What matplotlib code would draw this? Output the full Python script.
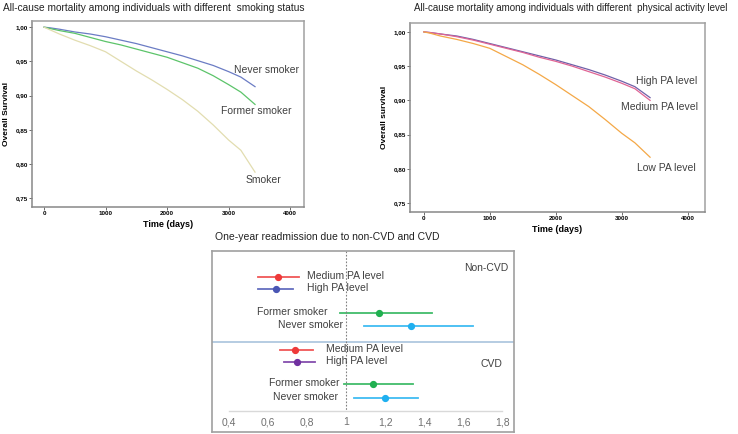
import matplotlib.pyplot as plt
import numpy as np
from matplotlib.ticker import FuncFormatter

plt.rcParams['font.family'] = ['Liberation Sans', 'DejaVu Sans']

# Kaplan-Meier curves
days = [0, 100, 250, 500, 750, 1000, 1250, 1500, 1750, 2000, 2250, 2500, 2750, 3000, 3200, 3430]
never_smoker = [1.000, 0.999, 0.997, 0.993, 0.990, 0.986, 0.981, 0.976, 0.970, 0.964, 0.958, 0.951, 0.944, 0.935, 0.927, 0.913]
former_smoker = [1.000, 0.998, 0.995, 0.991, 0.985, 0.979, 0.974, 0.968, 0.962, 0.956, 0.948, 0.940, 0.929, 0.916, 0.905, 0.887]
smoker = [1.000, 0.996, 0.990, 0.981, 0.973, 0.964, 0.950, 0.936, 0.923, 0.909, 0.894, 0.877, 0.857, 0.835, 0.820, 0.788]

high_pa = [1.000, 0.999, 0.997, 0.994, 0.989, 0.983, 0.977, 0.971, 0.965, 0.959, 0.952, 0.945, 0.937, 0.928, 0.920, 0.904]
medium_pa = [1.000, 0.999, 0.997, 0.993, 0.988, 0.982, 0.976, 0.970, 0.963, 0.957, 0.950, 0.942, 0.934, 0.925, 0.917, 0.900]
low_pa = [1.000, 0.998, 0.994, 0.989, 0.983, 0.976, 0.964, 0.952, 0.938, 0.923, 0.907, 0.891, 0.872, 0.852, 0.838, 0.817]

# forest plot: order = Medium PA, High PA, Former smoker, Never smoker
forest_labels = ['Medium PA level', 'High PA level', 'Former smoker', 'Never smoker']
noncvd_or = [0.65, 0.64, 1.17, 1.33]
noncvd_lo = [0.55, 0.55, 0.97, 1.09]
noncvd_hi = [0.76, 0.73, 1.44, 1.65]
cvd_or = [0.74, 0.75, 1.14, 1.20]
cvd_lo = [0.66, 0.68, 0.99, 1.04]
cvd_hi = [0.83, 0.84, 1.34, 1.37]
forest_ticks = [0.4, 0.6, 0.8, 1.0, 1.2, 1.4, 1.6, 1.8]

txt = '#404040'
frame = '#a0a0a0'
comma = FuncFormatter(lambda v, p: f'{v:.2f}'.replace('.', ','))

fig = plt.figure(figsize=(7.38, 4.34), dpi=100)


def km_axes(rect, curves, labels, label_pos, ylab):
    ax = fig.add_axes(rect)
    for (vals, color), lab, (lx, ly) in zip(curves, labels, label_pos):
        ax.plot(days, vals, color=color, lw=0.9)
        ax.text(lx, ly, lab, fontsize=7.5, color=txt, ha='right', va='center')
    ax.set_ylim(0.737, 1.009)
    ax.set_yticks([0.75, 0.80, 0.85, 0.90, 0.95, 1.00])
    ax.yaxis.set_major_formatter(comma)
    ax.set_xticks([0, 1000, 2000, 3000, 4000])
    for s in ['top', 'right']:
        ax.spines[s].set_color(frame)
    for s in ['left', 'bottom']:
        ax.spines[s].set_color('#888888')
    for s in ax.spines.values():
        s.set_linewidth(1.1)
    ax.tick_params(labelsize=4.5, length=2, width=0.6, color='#555555', pad=1)
    for t in ax.get_xticklabels() + ax.get_yticklabels():
        t.set_fontweight('bold')
    ax.set_xlabel('Time (days)', fontsize=6.5, fontweight='bold', labelpad=3)
    ax.set_ylabel(ylab, fontsize=6, fontweight='bold', labelpad=4)
    return ax


ax1 = km_axes([0.0434, 0.523, 0.3686, 0.4286],
              [(never_smoker, '#6b7cc4'), (former_smoker, '#5cc46a'), (smoker, '#e2ddb0')],
              ['Never smoker', 'Former smoker', 'Smoker'],
              [(4150, 0.938), (4030, 0.878), (3850, 0.777)], 'Overall Survival')
ax1.set_xlim(-195, 4227)

ax2 = km_axes([0.5556, 0.5115, 0.3997, 0.4355],
              [(high_pa, '#7060a8'), (medium_pa, '#e06494'), (low_pa, '#f4a847')],
              ['High PA level', 'Medium PA level', 'Low PA level'],
              [(4150, 0.929), (4150, 0.890), (4130, 0.801)], 'Overall survival')
ax2.set_xlim(-210, 4263)
ax2.set_ylim(0.737, 1.013)

fig.text(0.004, 0.981, 'All-cause mortality among individuals with different  smoking status',
         fontsize=7.3, color='#222222', ha='left', va='center')
fig.text(0.561, 0.981, 'All-cause mortality among individuals with different  physical activity level',
         fontsize=7.0, color='#222222', ha='left', va='center')
fig.text(0.443, 0.454, 'One-year readmission due to non-CVD and CVD',
         fontsize=7.5, color='#222222', ha='center', va='center')

# forest plot, y in pixel-like layout units (top = 251, bottom = 432)
ax3 = fig.add_axes([0.2873, 0.0046, 0.4092, 0.417])
ax3.set_xlim(0.313, 1.86)
ax3.set_ylim(432, 251)
ax3.set_xticks([])
ax3.set_yticks([])
for s in ax3.spines.values():
    s.set_color(frame)
    s.set_linewidth(1.2)

noncvd_y = [277, 289, 313, 326]
cvd_y = [350, 362, 384, 398]
noncvd_colors = ['#ee3a3a', '#4a56b4', '#20b050', '#1fb0f0']
cvd_colors = ['#ee3a3a', '#7030a0', '#20b050', '#1fb0f0']
noncvd_lab = [(0.80, 'left'), (0.80, 'left'), (0.905, 'right'), (0.985, 'right')]
cvd_lab = [(0.897, 'left'), (0.897, 'left'), (0.964, 'right'), (0.959, 'right')]

for ors, los, his, ys, cols, labs in [(noncvd_or, noncvd_lo, noncvd_hi, noncvd_y, noncvd_colors, noncvd_lab),
                                     (cvd_or, cvd_lo, cvd_hi, cvd_y, cvd_colors, cvd_lab)]:
    for o, lo, hi, y, c, name, (lx, ha) in zip(ors, los, his, ys, cols, forest_labels, labs):
        ax3.plot([lo, hi], [y, y], color=c, lw=1.3, alpha=0.85)
        ax3.plot(o, y, 'o', color=c, ms=4.2)
        ax3.text(lx, y - 1, name, fontsize=7.5, color=txt, ha=ha, va='center')

ax3.text(1.83, 268, 'Non-CVD', fontsize=7.5, color=txt, ha='right', va='center')
ax3.text(1.80, 364, 'CVD', fontsize=7.5, color=txt, ha='right', va='center')

ax3.axhline(342, color='#a9c3dd', lw=1.2)
ax3.plot([1, 1], [251, 411], color='#808080', lw=0.8, ls=(0, (1.5, 1.5)))
ax3.plot([0.4, 1.8], [411, 411], color='#d9d9d9', lw=1)
for t in forest_ticks:
    ax3.text(t, 422, f'{t:g}'.replace('.', ','), fontsize=7.5, color='#707070', ha='center', va='center')

fig.savefig('out.png', dpi=100)
